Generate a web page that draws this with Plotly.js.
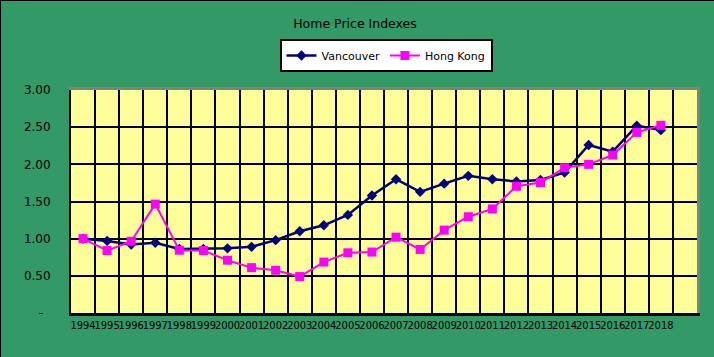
<!DOCTYPE html>
<html>
<head>
<meta charset="utf-8">
<script src="https://cdn.plot.ly/plotly-3.0.1.min.js"></script>
<style>
  html, body { margin: 0; padding: 0; background: #339966; }
  #wrap { position: relative; width: 714px; height: 357px; }
  #chart { width: 714px; height: 357px; }
  #frame { position: absolute; left: 0; top: 0; width: 714px; height: 357px;
           border-left: 1px solid #000; border-top: 1px solid #000; box-sizing: border-box; pointer-events: none; }
</style>
</head>
<body>
<div id="wrap"><div id="chart"></div><div id="frame"></div></div>
<script>
const years = ["1994","1995","1996","1997","1998","1999","2000","2001","2002","2003","2004","2005","2006","2007","2008","2009","2010","2011","2012","2013","2014","2015","2016","2017","2018"];
const vancouver = [1.00,0.97,0.92,0.945,0.86,0.86,0.87,0.89,0.98,1.10,1.18,1.32,1.58,1.80,1.63,1.74,1.845,1.80,1.77,1.79,1.89,2.26,2.17,2.52,2.46];
const hongKong = [1.00,0.84,0.965,1.465,0.845,0.84,0.71,0.61,0.575,0.49,0.685,0.81,0.82,1.02,0.855,1.115,1.295,1.40,1.705,1.755,1.955,2.00,2.125,2.43,2.525];
const yTickVals = [0,0.5,1.0,1.5,2.0,2.5,3.0];
const yTickText = ["-\u00A0\u00A0","0.50","1.00","1.50","2.00","2.50","3.00"];

const slots = years.length + 1;
const idx = years.map((_, i) => i);
const bounds = Array.from({length: slots + 1}, (_, i) => i - 0.5);

const traces = [
  { x: idx, y: vancouver, name: "Vancouver", type: "scatter", mode: "lines+markers",
    line: {color: "#000080", width: 2.5}, marker: {symbol: "diamond", size: 8, color: "#000080"} },
  { x: idx, y: hongKong, name: "Hong Kong", type: "scatter", mode: "lines+markers",
    line: {color: "#FF00FF", width: 2}, marker: {symbol: "square", size: 9, color: "#FF00FF"} },
  { x: [], y: [], xaxis: "x2", yaxis: "y2", showlegend: false, hoverinfo: "skip", type: "scatter", mode: "markers" }
];

const layout = {
  width: 714, height: 357,
  paper_bgcolor: "#339966", plot_bgcolor: "#FFFF99",
  margin: {l: 71, r: 17, t: 90, b: 44, pad: 0},
  font: {family: "DejaVu Sans", size: 12, color: "#000"},
  title: {text: "Home Price Indexes", x: 355/714, xanchor: "center", xref: "container",
          y: 1 - 24/357, yanchor: "middle", yref: "container",
          font: {family: "DejaVu Sans", size: 12.5, color: "#000"}},
  showlegend: true,
  legend: {orientation: "h", xref: "container", yref: "container",
           x: 386/714, xanchor: "center", y: 1 - 55.5/357, yanchor: "middle",
           bgcolor: "#FFFFFF", bordercolor: "#000", borderwidth: 2,
           itemwidth: 30, font: {family: "DejaVu Sans", size: 11, color: "#000"}},
  xaxis: {range: [-0.5, slots - 0.5], tickvals: idx, ticktext: years, showgrid: false,
          zeroline: false, showline: true, linecolor: "#000", linewidth: 3, ticks: "",
          tickangle: 0, automargin: false,
          tickfont: {family: "DejaVu Sans Condensed", size: 11, color: "#000"}, fixedrange: true},
  xaxis2: {overlaying: "x", side: "top", range: [-0.5, slots - 0.5], tickvals: bounds,
           showticklabels: false, ticks: "", showgrid: true, gridcolor: "#000", gridwidth: 2,
           zeroline: false, showline: true, linecolor: "#808080", linewidth: 3},
  yaxis: {range: [0, 3], tickvals: yTickVals, ticktext: yTickText, showgrid: true,
          gridcolor: "#000", gridwidth: 2, zeroline: false, showline: true, linecolor: "#000",
          linewidth: 2, ticks: "outside", ticklen: 16, tickcolor: "rgba(0,0,0,0)",
          tickfont: {family: "DejaVu Sans", size: 12, color: "#000"}},
  yaxis2: {overlaying: "y", side: "right", range: [0, 3], showticklabels: false, ticks: "",
           showgrid: false, zeroline: false, showline: true, linecolor: "#808080", linewidth: 3}
};

Plotly.newPlot("chart", traces, layout, {staticPlot: true, displayModeBar: false});
</script>
</body>
</html>
